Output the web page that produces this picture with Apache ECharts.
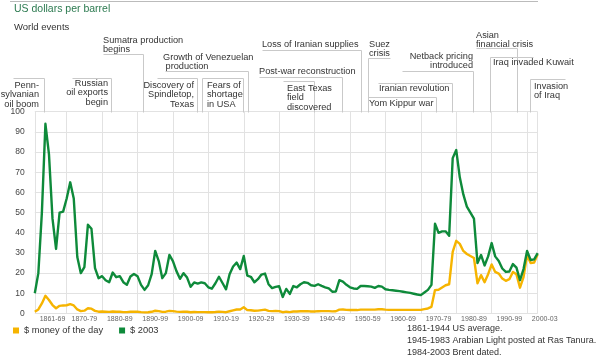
<!DOCTYPE html>
<html><head><meta charset="utf-8">
<script src="https://cdn.jsdelivr.net/npm/echarts@6/dist/echarts.min.js"></script>
<style>html,body{margin:0;padding:0;background:#fff}#c{width:600px;height:360px}</style>
</head><body><div id="c"></div>
<script>
// ---- data ----
const startYear = 1861, endYear = 2003;
const years = [];
for (let y = startYear; y <= endYear; y++) years.push(String(y));

// $ money of the day, 1861..2003
const moneyOfDay = [
 0.9,2,5,8.8,6.7,4.2,2.6,3.8,4,
 4.1,4.6,4,2,1.2,1.4,2.6,2.4,1.3,0.9,
 1,0.9,0.8,1,0.85,0.9,0.7,0.7,0.9,0.95,
 0.9,0.7,0.55,0.65,0.85,1.35,1.2,0.8,0.9,1.3,
 1.2,0.95,0.8,0.95,0.85,0.6,0.75,0.7,0.7,0.7,
 0.6,0.6,0.75,0.95,0.8,0.65,1.1,1.55,2,2,
 3.1,1.7,1.6,1.35,1.45,1.7,1.9,1.3,1.2,1.3,
 1.2,0.65,0.9,0.7,1,1,1.1,1.2,1.15,1,
 1,1.15,1.2,1.2,1.2,1.05,1.1,1.9,2,1.8,
 1.7,1.7,1.7,1.9,1.9,1.9,1.9,1.9,2.1,2.1,
 1.9,1.8,1.8,1.8,1.8,1.8,1.8,1.8,1.8,1.8,
 1.8,2.2,2.5,3.3,11.6,11.8,12.9,14,14.5,30.5,
 36,34.5,31,29.5,28.5,27.5,15,19,15.5,19.5,
 24.3,20.6,19.8,17.3,16.2,17,20.6,19.4,12.8,18,
 29,25,25.3,29.3
];
// $ 2003, 1861..2003
const dollars2003 = [
 10,20,50,94,79,47,32,50,50.5,
 57,65,57,28,20,23,44,42,22.5,17.5,
 18.5,16.5,15.5,20.3,18,18.5,15.5,14.2,18.3,19.6,
 18.5,14.2,11.7,14,19.5,31,26,17.5,20,29,
 26,21,17.2,20,17.8,13.2,15.4,14.8,15.4,15,
 13,12.3,15,18.2,15.1,12,19.5,23.3,25.2,22,
 28.5,18.8,18.2,15.5,17,19.3,19.8,14.5,12.6,13.2,
 13.5,8.2,12.2,9.7,13.6,13,14.5,15.5,15.2,14,
 13.7,14.5,13.7,13,12.4,10.8,10.9,16.5,15.8,14.2,
 13,12.4,12.2,13.6,13.6,13.5,13.3,12.7,13.6,13.3,
 12,11.7,11.5,11.3,11.1,10.8,10.5,10.2,9.8,9.4,
 9.1,10.4,11.7,14.2,44.5,40,40.7,40.7,38.5,77,
 81,67.5,59,53,50,47,25,29,23.8,28.3,
 34.9,28.3,26,22.3,20.6,20.8,24.5,22.7,16.5,22,
 31,26.5,26.8,29.9
];
const seriesNames = ['$ money of the day', '$ 2003'];
const decadeLabels = ['1861-69','1870-79','1880-89','1890-99','1900-09','1910-19','1920-29','1930-39','1940-49','1950-59','1960-69','1970-79','1980-89','1990-99','2000-03'];
const labelYears = ['1866','1875','1885','1895','1905','1915','1925','1935','1945','1955','1965','1975','1985','1995','2003'];
const yTicks = {min: 0, max: 100, step: 10};

const titleText = 'US dollars per barrel';
const subTitleText = 'World events';
const notes = ['1861-1944 US average.', '1945-1983 Arabian Light posted at Ras Tanura.', '1984-2003 Brent dated.'];
const events = [
 'Penn-\nsylvanian\noil boom',
 'Russian\noil exports\nbegin',
 'Sumatra production\nbegins',
 'Growth of Venezuelan\n production',
 'Discovery of\nSpindletop,\nTexas',
 'Fears of\nshortage\nin USA',
 'Loss of Iranian supplies',
 'Post-war reconstruction',
 'East Texas\nfield\ndiscovered',
 'Suez\ncrisis',
 'Netback pricing\nintroduced',
 'Iranian revolution',
 'Yom Kippur war',
 'Asian\nfinancial crisis',
 'Iraq invaded Kuwait',
 'Invasion\nof Iraq'
];

// ---- layout (pixels) ----
const eventLayout = [
 {x:39, y:80.5, align:'right', pts:[[13,78],[44,78],[44,112]]},
 {x:108, y:78.5, align:'right', pts:[[72,78],[111,78],[111,112]]},
 {x:103, y:35.5, align:'left', pts:[[103,54],[143,54],[143,112]]},
 {x:163, y:52.5, align:'left', pts:[[165,71],[248,71],[248,112]]},
 {x:194, y:80.5, align:'right', pts:[[157,78],[197,78],[197,112]]},
 {x:207, y:80.5, align:'left', pts:[[202,112],[202,78],[243,78],[243,112]]},
 {x:262, y:39.5, align:'left', pts:[[262,50],[361,50],[361,112]]},
 {x:259, y:66.5, align:'left', pts:[[259,77],[342,77],[342,112]]},
 {x:287, y:83.5, align:'left', pts:[[283,81],[314,81],[314,112]]},
 {x:369, y:39.5, align:'left', pts:[[390,58],[368,58],[368,112]]},
 {x:473, y:51.5, align:'right', pts:[[402,71],[473,71],[473,112]]},
 {x:379, y:83.5, align:'left', pts:[[378,83],[452,83],[452,112]]},
 {x:369, y:98.5, align:'left', pts:[[368,97],[436,97],[436,112]]},
 {x:476, y:30.5, align:'left', pts:[[476,48],[517,48],[517,112]]},
 {x:493, y:57.5, align:'left', pts:[[533,57],[490,57],[490,112]]},
 {x:534, y:81.5, align:'left', pts:[[565,79],[530,79],[530,112]]}
];

const FONT = '"Liberation Sans", Arial, Helvetica, sans-serif';
const GREEN = '#0e8a3a', ORANGE = '#f6b400', LINE = '#c9c9c9';

const graphics = [];
graphics.push({type:'line', shape:{x1:10,y1:1.5,x2:538,y2:1.5}, style:{stroke:'#bbbbbb', lineWidth:1}, silent:true});
graphics.push({type:'text', style:{text:titleText, x:14, y:9, fontSize:10.5, fontFamily:FONT, fill:'#2c7a50', verticalAlign:'middle'}});
graphics.push({type:'text', style:{text:subTitleText, x:14, y:27, fontSize:9.5, fontFamily:FONT, fill:'#333', verticalAlign:'middle'}});
events.forEach((t, i) => {
  const L = eventLayout[i];
  graphics.push({type:'polyline', shape:{points:L.pts.map(p => [Math.round(p[0])+0.5, Math.round(p[1])+0.5])}, style:{stroke:LINE, lineWidth:1, fill:null}, silent:true, z:1});
  graphics.push({type:'text', style:{text:t, x:L.x, y:L.y, align:L.align, verticalAlign:'top', fontSize:9.2, lineHeight:9.5, fontFamily:FONT, fill:'#333'}, z:2});
});
notes.forEach((t, i) => {
  graphics.push({type:'text', style:{text:t, x:407, y:329 + i*12, fontSize:9, fontFamily:FONT, fill:'#333', verticalAlign:'middle'}});
});

const labelMap = {};
labelYears.forEach((y, i) => labelMap[y] = decadeLabels[i]);
const lastYear = years[years.length - 1];

const chart = echarts.init(document.getElementById('c'), null, {renderer:'canvas'});
chart.setOption({
  animation:false,
  textStyle:{fontFamily:FONT},
  grid:{left:34.8, right:62.3, top:111.7, bottom:46.5, containLabel:false},
  legend:{
    data:seriesNames, left:13, top:326, padding:0, icon:'rect', itemWidth:6, itemHeight:6, itemGap:16,
    textStyle:{fontSize:9.3, color:'#333', fontFamily:FONT}
  },
  xAxis:{
    type:'category', data:years, boundaryGap:false,
    axisLine:{show:false}, axisTick:{show:false},
    axisLabel:{
      interval:(idx, val) => labelMap[val] !== undefined,
      formatter:(val) => val === lastYear ? '{e|' + labelMap[val] + '}' : labelMap[val],
      fontSize:7, color:'#666', margin:2,
      rich:{e:{padding:[0,0,0,14], fontSize:7, color:'#666'}}
    },
    splitLine:{show:true, interval:(idx, val) => idx === 0 || idx === years.length - 1 || (+val) % 10 === 0,
      lineStyle:{color:'#e2e2e2', width:1}}
  },
  yAxis:{
    type:'value', min:yTicks.min, max:yTicks.max, interval:yTicks.step,
    axisLine:{show:false}, axisTick:{show:false},
    axisLabel:{fontSize:8.5, color:'#444', margin:10, padding:[5,0,0,0]},
    splitLine:{lineStyle:{color:'#e2e2e2', width:1}}
  },
  series:[
    {name:seriesNames[0], type:'line', data:moneyOfDay, symbol:'none', itemStyle:{color:ORANGE},
     lineStyle:{color:ORANGE, width:2.4, join:'round'}, z:2},
    {name:seriesNames[1], type:'line', data:dollars2003, symbol:'none', itemStyle:{color:GREEN},
     lineStyle:{color:GREEN, width:2.4, join:'round'}, z:3}
  ],
  graphic:graphics
});
</script></body></html>
